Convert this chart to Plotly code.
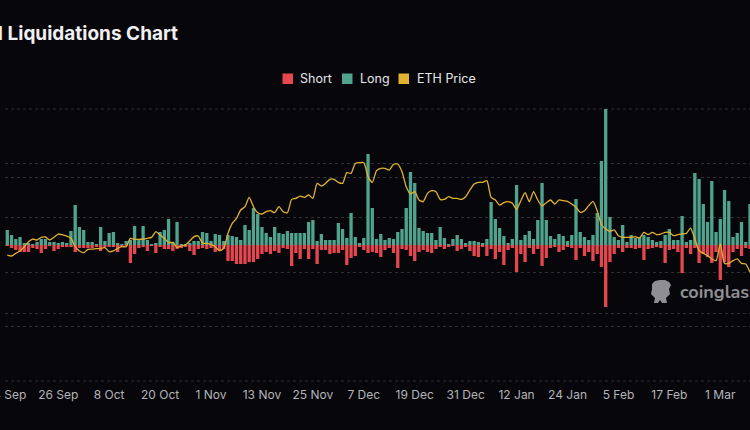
import plotly.graph_objects as go
import pandas as pd

# ---------------- data ----------------
start_date = "2024-09-14"          # first daily bar
tick_step_days = 12                # x tick spacing

# Long liquidations (USD millions), one value per day
long_liq = [
    37.5, 25, 15, 20, 5, 5, 2.5, 7.5, 15, 15, 7.5, 7.5, 5, 7.5, 5, 35, 100, 45, 37.5, 7.5,
    7.5, 2.5, 45, 10, 30, 32.5, 5, 2.5, 10, 12.5, 47.5, 12.5, 47.5, 12.5, 2.5, 5, 32.5, 37.5, 65, 7.5,
    57.5, 2.5, 2.5, 5, 10, 10, 32.5, 30, 10, 27.5, 25, 10, 25, 22.5, 20, 12.5, 50, 37.5, 92.5, 77.5,
    45, 30, 20, 45, 30, 27.5, 35, 30, 30, 30, 30, 57.5, 62.5, 10, 27.5, 12.5, 12.5, 12.5, 55, 40,
    17.5, 80, 20, 5, 17.5, 227.5, 92.5, 15, 27.5, 12.5, 17.5, 15, 32.5, 40, 92.5, 182.5, 155, 42.5, 35, 30,
    30, 12.5, 45, 17.5, 2.5, 15, 25, 15, 5, 10, 10, 7.5, 5, 15, 107.5, 65, 42.5, 22.5, 5, 15,
    150, 12.5, 25, 35, 15, 62.5, 155, 62.5, 22.5, 15, 27.5, 22.5, 10, 25, 115, 32.5, 20, 12.5, 25, 80,
    210, 340, 70, 20, 12.5, 50, 7.5, 25, 17.5, 20, 25, 20, 12.5, 7.5, 10, 25, 40, 12.5, 12.5, 72.5,
    7.5, 12.5, 180, 165, 102.5, 57.5, 160, 32.5, 65, 137.5, 110, 20, 30, 57.5, 7.5, 102.5,
]

# Short liquidations (USD millions), one value per day
short_liq = [
    2.5, 7.5, 12.5, 17.5, 17.5, 17.5, 7.5, 10, 20, 10, 2.5, 15, 10, 5, 5, 5, 17.5, 7.5, 7.5, 7.5,
    7.5, 5, 15, 5, 5, 5, 17.5, 5, 2.5, 45, 22.5, 7.5, 5, 15, 2.5, 20, 5, 10, 10, 15,
    10, 7.5, 5, 15, 25, 10, 7.5, 10, 7.5, 17.5, 12.5, 10, 40, 40, 47.5, 47.5, 47.5, 42.5, 42.5, 35,
    22.5, 17.5, 22.5, 15, 20, 7.5, 10, 52.5, 20, 35, 10, 35, 10, 47.5, 12.5, 12.5, 22.5, 20, 20, 12.5,
    50, 32.5, 27.5, 5, 12.5, 20, 17.5, 20, 30, 12.5, 7.5, 20, 57.5, 10, 12.5, 27.5, 40, 17.5, 12.5, 17.5,
    20, 10, 5, 10, 5, 2.5, 15, 10, 5, 15, 27.5, 30, 5, 27.5, 10, 35, 17.5, 50, 12.5, 7.5,
    67.5, 22.5, 42.5, 7.5, 22.5, 10, 52.5, 32.5, 7.5, 5, 17.5, 12.5, 5, 7.5, 37.5, 7.5, 27.5, 17.5, 40, 22.5,
    55, 155, 42.5, 22.5, 7.5, 17.5, 7.5, 7.5, 10, 7.5, 37.5, 10, 7.5, 5, 7.5, 45, 12.5, 10, 17.5, 70,
    7.5, 22.5, 7.5, 45, 22.5, 30, 45, 17.5, 87.5, 42.5, 55, 17.5, 10, 27.5, 7.5, 10,
]

# ETH price (USD), one value per day
eth_price = [
    2316, 2298, 2347, 2390, 2469, 2561, 2610, 2592, 2641, 2647, 2592, 2641, 2702, 2684, 2665, 2623, 2469, 2390, 2359, 2420,
    2426, 2432, 2439, 2451, 2377, 2390, 2439, 2469, 2469, 2623, 2604, 2604, 2610, 2623, 2641, 2745, 2684, 2623, 2543, 2549,
    2457, 2482, 2500, 2575, 2653, 2665, 2531, 2531, 2512, 2469, 2396, 2439, 2714, 2898, 2990, 3143, 3204, 3376, 3204, 3094,
    3070, 3112, 3131, 3094, 3204, 3112, 3094, 3339, 3358, 3400, 3376, 3419, 3358, 3633, 3585, 3633, 3707, 3707, 3652, 3633,
    3830, 3817, 4000, 4013, 4013, 3756, 3650, 3866, 3909, 3909, 3879, 3983, 3989, 3848, 3572, 3438, 3480, 3327, 3296, 3450,
    3499, 3480, 3339, 3339, 3388, 3358, 3358, 3339, 3388, 3511, 3621, 3652, 3652, 3682, 3376, 3327, 3235, 3278, 3296, 3266,
    3156, 3314, 3462, 3296, 3480, 3327, 3217, 3278, 3327, 3254, 3330, 3314, 3303, 3254, 3192, 3100, 3131, 3223, 3303, 3131,
    2873, 2794, 2752, 2776, 2671, 2641, 2641, 2641, 2653, 2629, 2733, 2690, 2733, 2690, 2702, 2733, 2733, 2671, 2690, 2702,
    2714, 2812, 2610, 2396, 2347, 2304, 2243, 2212, 2518, 2163, 2163, 2212, 2243, 2163, 2151, 1998,
]

legend_names = ["Short", "Long", "ETH Price"]
title_text = "ETH Total Liquidations Chart"
watermark_text = "coinglass"

# ---------------- styling ----------------
BG = "#07070b"
RED = "#e5474f"
TEAL = "#50a38c"
GOLD = "#e2b233"
GRID = "#303035"
TICK = "#b4b4b8"
FONT = "Inter"

W, H = 750, 430
PL, PR, PT, PB = 5, 750, 109, 381   # plot area in pixels


def fx(x):
    return (x - PL) / (PR - PL)


def fy(y):
    return (PB - y) / (PB - PT)


dates = pd.date_range(start_date, periods=len(long_liq), freq="D")
day_ms = 86400000

fig = go.Figure()
fig.add_trace(go.Bar(x=dates, y=long_liq, name="Long", marker_color=TEAL,
                     marker_line_width=0, width=0.78 * day_ms, showlegend=False))
fig.add_trace(go.Bar(x=dates, y=[-v for v in short_liq], name="Short", marker_color=RED,
                     marker_line_width=0, width=0.78 * day_ms, showlegend=False))
fig.add_trace(go.Scatter(x=dates, y=eth_price, name="ETH Price", yaxis="y2", mode="lines",
                         line=dict(color=GOLD, width=1.3, shape="spline", smoothing=0.6),
                         showlegend=False))

x0 = pd.Timestamp(start_date) - pd.Timedelta(hours=13)
x1 = pd.Timestamp(start_date) + pd.Timedelta(days=len(long_liq) - 1)

fig.update_layout(
    width=W, height=H,
    margin=dict(l=PL, r=W - PR, t=PT, b=H - PB, pad=0, autoexpand=False),
    paper_bgcolor=BG, plot_bgcolor=BG,
    barmode="relative",
    font=dict(family=FONT, color=TICK, size=12),
    xaxis=dict(type="date", range=[x0, x1], tick0=start_date, dtick=tick_step_days * day_ms,
               tickformat="%-d %b", showgrid=False, zeroline=False, showline=False,
               ticks="outside", ticklen=3, tickcolor="rgba(0,0,0,0)",
               ticklabeloverflow="allow", automargin=False,
               tickfont=dict(family=FONT, size=12, color=TICK)),
    yaxis=dict(range=[-340, 340], tickvals=[-340, -170, 0, 170, 340], showticklabels=False,
               showgrid=True, gridcolor=GRID, griddash="3px,3px", gridwidth=1, zeroline=False,
               automargin=False),
    yaxis2=dict(range=[0, 5000], tickvals=[0, 1000, 2000, 3000, 4000, 5000], overlaying="y",
                side="right", showticklabels=False, showgrid=True, gridcolor=GRID,
                griddash="3px,3px", gridwidth=1, zeroline=False, automargin=False),
    showlegend=False,
)

# edge gridlines (top and bottom of the plot)
for yy in (PT, PB):
    fig.add_shape(type="line", xref="paper", yref="paper", x0=0, x1=1, y0=fy(yy), y1=fy(yy),
                  line=dict(color=GRID, width=1, dash="3px,3px"), layer="below")

# title (cropped on the left like the reference)
fig.add_annotation(text="<b>" + title_text + "</b>", xref="paper", yref="paper",
                   x=fx(180), y=fy(33), xanchor="right", yanchor="middle", showarrow=False,
                   font=dict(family=FONT, size=19, color="#f0f0f3"))

# custom legend with square swatches
legend_cols = [RED, TEAL, GOLD]
sq_left = [282.5, 342, 398.5]
txt_left = [297.5, 357.5, 415]
for name, col, sx, tx in zip(legend_names, legend_cols, sq_left, txt_left):
    fig.add_shape(type="rect", xref="paper", yref="paper", x0=fx(sx), x1=fx(sx + 10.5),
                  y0=fy(84), y1=fy(73.5), fillcolor=col, line_width=0)
    fig.add_annotation(text=name, xref="paper", yref="paper", x=fx(tx), y=fy(79),
                       xanchor="left", yanchor="middle", showarrow=False,
                       font=dict(family=FONT, size=12.5, color="#e6e6ea"))

# watermark
fig.add_annotation(text="<b>" + watermark_text + "</b>", xref="paper", yref="paper",
                   x=fx(678), y=fy(292), xanchor="left", yanchor="middle", showarrow=False,
                   font=dict(family="Nunito, Lato, " + FONT, size=18, color="#8f8f93"))
logo = [(652, 284), (655, 281), (660, 280), (665, 280), (669, 282), (671, 285), (669, 289),
        (670, 294), (666, 298), (667, 303), (662, 303), (660, 300), (658, 303), (654, 303),
        (655, 298), (651, 294), (652, 289)]
path = "M " + " L ".join(f"{fx(a):.5f},{fy(b):.5f}" for a, b in logo) + " Z"
fig.add_shape(type="path", path=path, xref="paper", yref="paper",
              fillcolor="#8f8f93", line_width=0, layer="below")

fig.write_html("out.html", config={"displayModeBar": False},
               post_script="document.body.style.margin='0px';document.body.style.background='" + BG + "';")
